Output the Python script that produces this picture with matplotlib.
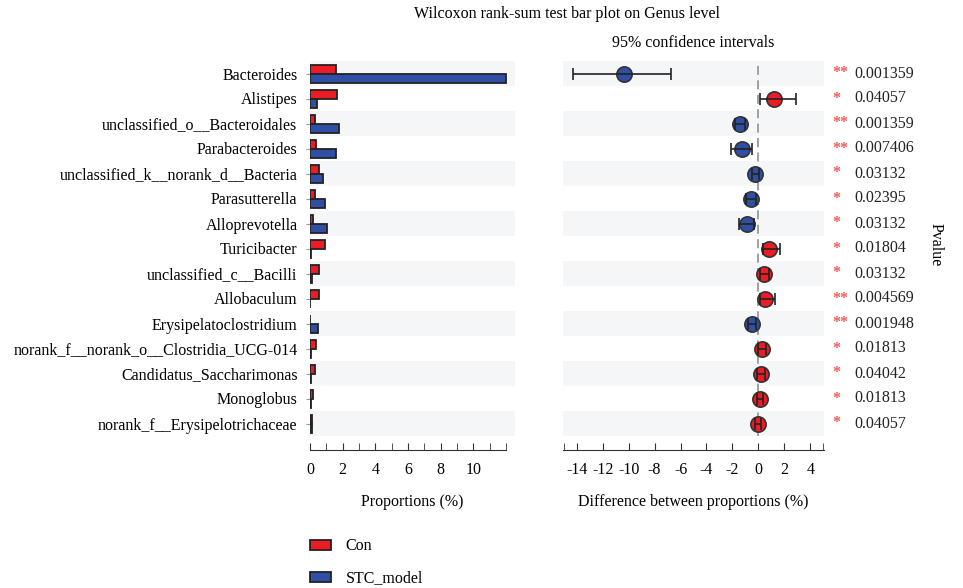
import numpy as np
import matplotlib
matplotlib.use("Agg")
import matplotlib.pyplot as plt
from matplotlib.patches import Patch

plt.rcParams['font.family'] = ['Liberation Serif', 'DejaVu Serif']
plt.rcParams['axes.unicode_minus'] = False

genus = ["Bacteroides", "Alistipes", "unclassified_o__Bacteroidales", "Parabacteroides",
         "unclassified_k__norank_d__Bacteria", "Parasutterella", "Alloprevotella",
         "Turicibacter", "unclassified_c__Bacilli", "Allobaculum", "Erysipelatoclostridium",
         "norank_f__norank_o__Clostridia_UCG-014", "Candidatus_Saccharimonas", "Monoglobus",
         "norank_f__Erysipelotrichaceae"]
con = [1.57, 1.67, 0.33, 0.39, 0.57, 0.33, 0.16, 0.90, 0.57, 0.55, 0.03, 0.35, 0.33, 0.20, 0.10]
stc = [11.97, 0.45, 1.78, 1.57, 0.82, 0.92, 1.04, 0.05, 0.15, 0.01, 0.51, 0.08, 0.08, 0.06, 0.12]
diff = [-10.36, 1.20, -1.44, -1.23, -0.23, -0.59, -0.87, 0.82, 0.44, 0.54, -0.46, 0.26, 0.21, 0.13, 0.00]
ci_low = [-14.30, 0.15, -1.77, -2.13, -0.51, -0.92, -1.49, 0.36, 0.10, 0.10, -0.80, -0.05, -0.10, -0.10, -0.28]
ci_high = [-6.75, 2.90, -1.00, -0.46, 0.05, -0.15, -0.36, 1.64, 0.82, 1.28, -0.15, 0.56, 0.51, 0.36, 0.23]
pvalue = ["0.001359", "0.04057", "0.001359", "0.007406", "0.03132", "0.02395", "0.03132",
          "0.01804", "0.03132", "0.004569", "0.001948", "0.01813", "0.04042", "0.01813", "0.04057"]
stars = ["**", "*", "**", "**", "*", "*", "*", "*", "*", "**", "**", "*", "*", "*", "*"]

red = "#ED1C24"
blue = "#2E4FA3"
band = "#F5F6F8"
n = len(genus)
y = np.arange(n)

fig = plt.figure(figsize=(9.63, 5.88), dpi=100)
ax1 = fig.add_axes([310 / 963, 1 - 436 / 588, 205 / 963, 375 / 588])
ax2 = fig.add_axes([563 / 963, 1 - 436 / 588, 261 / 963, 375 / 588])

for ax in (ax1, ax2):
    for i in y:
        if i % 2 == 0:
            ax.axhspan(i - 0.5, i + 0.5, color=band, lw=0, zorder=0)
    ax.set_ylim(n - 0.5, -0.5)
    ax.spines['top'].set_visible(False)
    ax.spines['right'].set_visible(False)
    ax.spines['left'].set_visible(False)
    ax.spines['bottom'].set_position(('outward', 10))
    ax.spines['bottom'].set_color("#333333")
    ax.tick_params(axis='x', direction='in', length=5, color="#333333", labelsize=11.5, pad=9)

# left panel: mean proportions
h = 0.36
ax1.barh(y - h / 2, con, height=h, color=red, edgecolor="#222222", lw=1.3, zorder=2)
ax1.barh(y + h / 2, stc, height=h, color=blue, edgecolor="#222222", lw=1.3, zorder=2)
ax1.set_xlim(0, 12.55)
ax1.spines['bottom'].set_bounds(0, 12)
ax1.set_xticks(range(0, 11, 2))
ax1.set_xticks(range(0, 13), minor=True)
ax1.tick_params(axis='x', which='minor', direction='in', length=5, color="#333333")
ax1.set_yticks(y)
ax1.set_yticklabels(genus, fontsize=11.5)
ax1.tick_params(axis='y', length=3, color="#999999", pad=6)
ax1.set_xlabel("Proportions (%)", fontsize=11.5, labelpad=11)

# right panel: difference with confidence intervals
ax2.axvline(0, color="#999999", ls=(0, (5, 3)), lw=1.3, zorder=1)
ax2.set_ylim(n - 0.5, -0.5)
for i in y:
    c = blue if diff[i] < 0 else red
    ax2.plot(diff[i], i, 'o', ms=11, mfc=c, mec="#333333", mew=1.2, zorder=3)
    ax2.errorbar(diff[i], i, xerr=[[diff[i] - ci_low[i]], [ci_high[i] - diff[i]]],
                 fmt='none', ecolor="#222222", elinewidth=1.2, capsize=4, capthick=1.2, zorder=4)
    ax2.text(5.7, i, stars[i], color="#F05A5A", fontsize=11.5, va='center', ha='left',
             fontweight='bold')
    ax2.text(7.4, i, pvalue[i], color="#222222", fontsize=11.5, va='center', ha='left')
ax2.set_xlim(-15.05, 5.05)
ax2.set_xticks(range(-14, 5, 2))
ax2.set_xticks([-15, 5], minor=True)
ax2.tick_params(axis='x', which='minor', direction='in', length=5, color="#333333")
ax2.set_yticks([])
ax2.set_xlabel("Difference between proportions (%)", fontsize=11.5, labelpad=11)
ax2.set_title("95% confidence intervals", fontsize=11.5, pad=10)

fig.text(567 / 963, 1 - 14 / 588, "Wilcoxon rank-sum test bar plot on Genus level",
         ha='center', va='center', fontsize=11.5)
fig.text(936 / 963, 1 - 245 / 588, "Pvalue", rotation=-90, ha='center', va='center', fontsize=11.5)

handles = [Patch(facecolor=red, edgecolor="#222222", lw=1.3),
           Patch(facecolor=blue, edgecolor="#222222", lw=1.3)]
fig.legend(handles, ["Con", "STC_model"], loc='upper left', bbox_to_anchor=(296 / 963, 1 - 524 / 588),
           frameon=False, fontsize=11.5, handlelength=1.3, handleheight=0.6, labelspacing=1.0,
           handletextpad=0.9)

fig.savefig("out.png", dpi=100)
